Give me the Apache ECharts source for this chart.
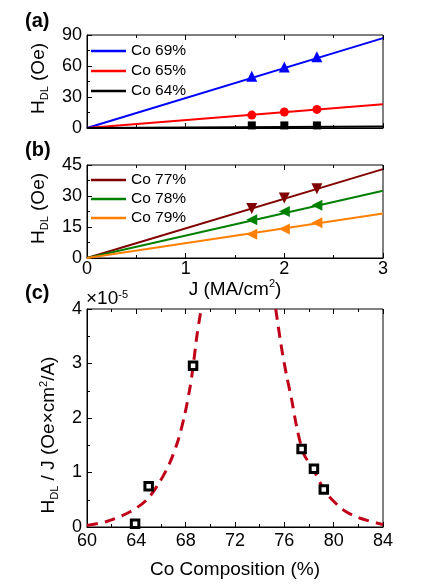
<!DOCTYPE html>
<html>
<head>
<meta charset="utf-8">
<script src="https://cdn.jsdelivr.net/npm/echarts@6/dist/echarts.min.js"></script>
<style>
html,body{margin:0;padding:0;background:#fff;}
#chart{width:434px;height:588px;}
</style>
</head>
<body>
<div id="chart"></div>
<script>
// ---- data ----
const jPoints = [1.67, 2.0, 2.33];          // J (MA/cm2) of measured points
const jLine = [0, 3];                        // J range of linear fits

const namesA = ['Co 69%', 'Co 65%', 'Co 64%'];
const a69Pts = [50, 59, 69];
const a69Line = [0, 87];
const a65Pts = [12.5, 15.5, 18];
const a65Line = [0, 23];
const a64Pts = [2.5, 2.5, 2.5];
const a64Line = [0, 1.5];

const namesB = ['Co 77%', 'Co 78%', 'Co 79%'];
const b77Pts = [24, 29, 33.5];
const b77Line = [0, 43];
const b78Pts = [18.5, 22.5, 25.5];
const b78Line = [0, 32.5];
const b79Pts = [11.5, 14, 17];
const b79Line = [0, 21.5];

const compX = [63.9, 65.0, 68.6, 77.4, 78.4, 79.2];
const compY = [0.06, 0.75, 2.96, 1.43, 1.07, 0.69];   // x 1e-5

const fitLeftX = [60, 61.6, 63.5, 64.85, 65.9, 66.7, 67.4, 67.95, 68.36, 68.6, 68.9, 69.2, 69.3];
const fitLeftY = [0.03, 0.1, 0.28, 0.5, 0.83, 1.17, 1.6, 2.09, 2.57, 2.94, 3.49, 3.92, 4.0];
const fitRightX = [75.3, 75.8, 76.2, 76.6, 77.0, 77.56, 78.37, 79.18, 79.45, 80.8, 82.16, 83.9, 84];
const fitRightY = [4.0, 3.25, 2.76, 2.33, 1.84, 1.35, 1.05, 0.69, 0.6, 0.31, 0.16, 0.05, 0.04];

const ticksA = [0, 30, 60, 90];
const ticksB = [0, 15, 30, 45];
const ticksJ = [0, 1, 2, 3];
const ticksComp = [60, 84];
const ticksC = [0, 4];

// ---- helpers ----
const FONT = "'Liberation Sans', Arial, sans-serif";
const pairs = (xs, ys) => xs.map((x, i) => [x, ys[i]]);

const chart = echarts.init(document.getElementById('chart'), null, {renderer: 'canvas'});

const gridBase = {left: 87, width: 296, show: true, borderColor: '#000', borderWidth: 1, backgroundColor: 'transparent'};
const tickCommon = {
  axisLine: {show: true, lineStyle: {color: '#000', width: 1}},
  axisTick: {show: true, inside: true, length: 5, lineStyle: {color: '#000'}},
  minorTick: {show: true, splitNumber: 2, length: 3, lineStyle: {color: '#000'}},
  splitLine: {show: false},
  axisLabel: {color: '#000', fontSize: 18, fontFamily: FONT}
};

function xAx(grid, min, max, interval, opts) {
  return Object.assign({type: 'value', gridIndex: grid, min, max, interval, position: 'bottom'}, JSON.parse(JSON.stringify(tickCommon)), opts || {});
}
function yAx(grid, min, max, interval, opts) {
  return Object.assign({type: 'value', gridIndex: grid, min, max, interval}, JSON.parse(JSON.stringify(tickCommon)), opts || {});
}

const subRich = {
  m: {fontSize: 19, fontFamily: FONT, color: '#000', lineHeight: 22},
  s: {fontSize: 11, fontFamily: FONT, color: '#000', verticalAlign: 'bottom', lineHeight: 6},
  p: {fontSize: 11, fontFamily: FONT, color: '#000', verticalAlign: 'top', lineHeight: 10}
};

const xAxes = [
  xAx(0, jLine[0], jLine[1], 1, {axisLabel: {show: false}}),
  xAx(0, jLine[0], jLine[1], 1, {position: 'top', axisLine: {show: false}, axisLabel: {show: false}}),
  xAx(1, ticksJ[0], ticksJ[3], 1, {
    axisLabel: {color: '#000', fontSize: 18, fontFamily: FONT, margin: 2},
    name: '{m|J (MA/cm}{p|2}{m|)}', nameLocation: 'middle', nameGap: 20,
    nameTextStyle: {rich: subRich}
  }),
  xAx(1, ticksJ[0], ticksJ[3], 1, {position: 'top', axisLine: {show: false}, axisLabel: {show: false}}),
  xAx(2, ticksComp[0], ticksComp[1], 4, {
    axisLabel: {color: '#000', fontSize: 18, fontFamily: FONT, margin: 5},
    name: 'Co Composition (%)', nameLocation: 'middle', nameGap: 33,
    nameTextStyle: {fontSize: 19, fontFamily: FONT, color: '#000'}
  }),
  xAx(2, ticksComp[0], ticksComp[1], 4, {position: 'top', axisLine: {show: false}, axisLabel: {show: false}})
];

const yAxes = [
  yAx(0, ticksA[0], ticksA[3], 30, {
    axisLabel: {color: '#000', fontSize: 18, fontFamily: FONT, margin: 5},
    name: '{m|H}{s|DL}{m| (Oe)}', nameLocation: 'middle', nameGap: 37, nameRotate: 90,
    nameTextStyle: {rich: subRich, padding: [0, 0, 0, 6]}
  }),
  yAx(1, ticksB[0], ticksB[3], 15, {
    axisLabel: {color: '#000', fontSize: 18, fontFamily: FONT, margin: 5},
    name: '{m|H}{s|DL}{m| (Oe)}', nameLocation: 'middle', nameGap: 37, nameRotate: 90,
    nameTextStyle: {rich: subRich, padding: [0, 0, 0, 6]}
  }),
  yAx(2, ticksC[0], ticksC[1], 1, {
    axisLabel: {color: '#000', fontSize: 18, fontFamily: FONT, margin: 5},
    name: '{m|H}{s|DL}{m| / J (Oe×cm}{p|2}{m|/A)}', nameLocation: 'middle', nameGap: 27, nameRotate: 90,
    nameTextStyle: {rich: subRich, padding: [0, 34, 0, 0]}
  })
];

function lineSeries(name, xi, yi, ys, color) {
  return {type: 'line', name, xAxisIndex: xi, yAxisIndex: yi, data: pairs(jLine, ys),
    symbol: 'none', showSymbol: false, lineStyle: {color, width: 2}, itemStyle: {color}, z: 2, silent: true};
}
function markSeries(name, xi, yi, ys, color, symbol, size, rotate) {
  return {type: 'scatter', name: name + ' data', xAxisIndex: xi, yAxisIndex: yi, data: pairs(jPoints, ys),
    symbol, symbolSize: size, symbolRotate: rotate || 0, itemStyle: {color, opacity: 1}, z: 3, silent: true};
}

const colA = ['#0000ff', '#ff0000', '#000000'];
const colB = ['#800000', '#008000', '#ff8000'];

const series = [
  lineSeries(namesA[0], 0, 0, a69Line, colA[0]),
  lineSeries(namesA[1], 0, 0, a65Line, colA[1]),
  lineSeries(namesA[2], 0, 0, a64Line, colA[2]),
  markSeries(namesA[0], 0, 0, a69Pts, colA[0], 'triangle', 11),
  markSeries(namesA[1], 0, 0, a65Pts, colA[1], 'circle', 9),
  markSeries(namesA[2], 0, 0, a64Pts, colA[2], 'rect', 8),
  lineSeries(namesB[0], 2, 1, b77Line, colB[0]),
  lineSeries(namesB[1], 2, 1, b78Line, colB[1]),
  lineSeries(namesB[2], 2, 1, b79Line, colB[2]),
  markSeries(namesB[0], 2, 1, b77Pts, colB[0], 'triangle', 11, 180),
  markSeries(namesB[1], 2, 1, b78Pts, colB[1], 'triangle', 11, 90),
  markSeries(namesB[2], 2, 1, b79Pts, colB[2], 'triangle', 11, 90),
  {type: 'line', name: 'fit left', xAxisIndex: 4, yAxisIndex: 2, data: pairs(fitLeftX, fitLeftY),
    symbol: 'none', smooth: 0.3, lineStyle: {color: '#c00018', width: 3, type: [11, 7]}, z: 2, silent: true},
  {type: 'line', name: 'fit right', xAxisIndex: 4, yAxisIndex: 2, data: pairs(fitRightX, fitRightY),
    symbol: 'none', smooth: 0.3, lineStyle: {color: '#c00018', width: 3, type: [11, 7]}, z: 2, silent: true},
  {type: 'scatter', name: 'HDL/J', xAxisIndex: 4, yAxisIndex: 2, data: pairs(compX, compY),
    symbol: 'rect', symbolSize: 7.5, itemStyle: {color: '#fff', borderColor: '#000', borderWidth: 3, opacity: 1}, z: 4, silent: true}
];

const legendCommon = {orient: 'vertical', left: 91, itemWidth: 35, itemHeight: 2.5, itemGap: 4, icon: 'rect',
  textStyle: {fontSize: 15.5, lineHeight: 16, fontFamily: FONT, color: '#000'}, padding: 0, selectedMode: false};

const option = {
  backgroundColor: '#fff',
  animation: false,
  title: [
    {text: '(a)', left: 25, top: 11, padding: 0, textStyle: {fontSize: 20, fontWeight: 'bold', fontFamily: FONT, color: '#000'}},
    {text: '(b)', left: 25, top: 140, padding: 0, textStyle: {fontSize: 20, fontWeight: 'bold', fontFamily: FONT, color: '#000'}},
    {text: '(c)', left: 25, top: 283, padding: 0, textStyle: {fontSize: 20, fontWeight: 'bold', fontFamily: FONT, color: '#000'}}
  ],
  legend: [
    Object.assign({}, legendCommon, {top: 43, data: namesA}),
    Object.assign({}, legendCommon, {top: 172, itemGap: 3, data: namesB})
  ],
  grid: [
    Object.assign({}, gridBase, {top: 35, height: 93}),
    Object.assign({}, gridBase, {top: 165, height: 93}),
    Object.assign({}, gridBase, {top: 309, height: 218})
  ],
  xAxis: xAxes,
  yAxis: yAxes,
  graphic: [
    {type: 'text', left: 86, top: 289, style: {
      text: '{a|×10}{b|-5}',
      rich: {
        a: {fontSize: 19, fontFamily: FONT, fill: '#000', lineHeight: 20},
        b: {fontSize: 11, fontFamily: FONT, fill: '#000', verticalAlign: 'top', lineHeight: 10}
      }
    }}
  ],
  series
};
chart.setOption(option);
</script>
</body>
</html>
